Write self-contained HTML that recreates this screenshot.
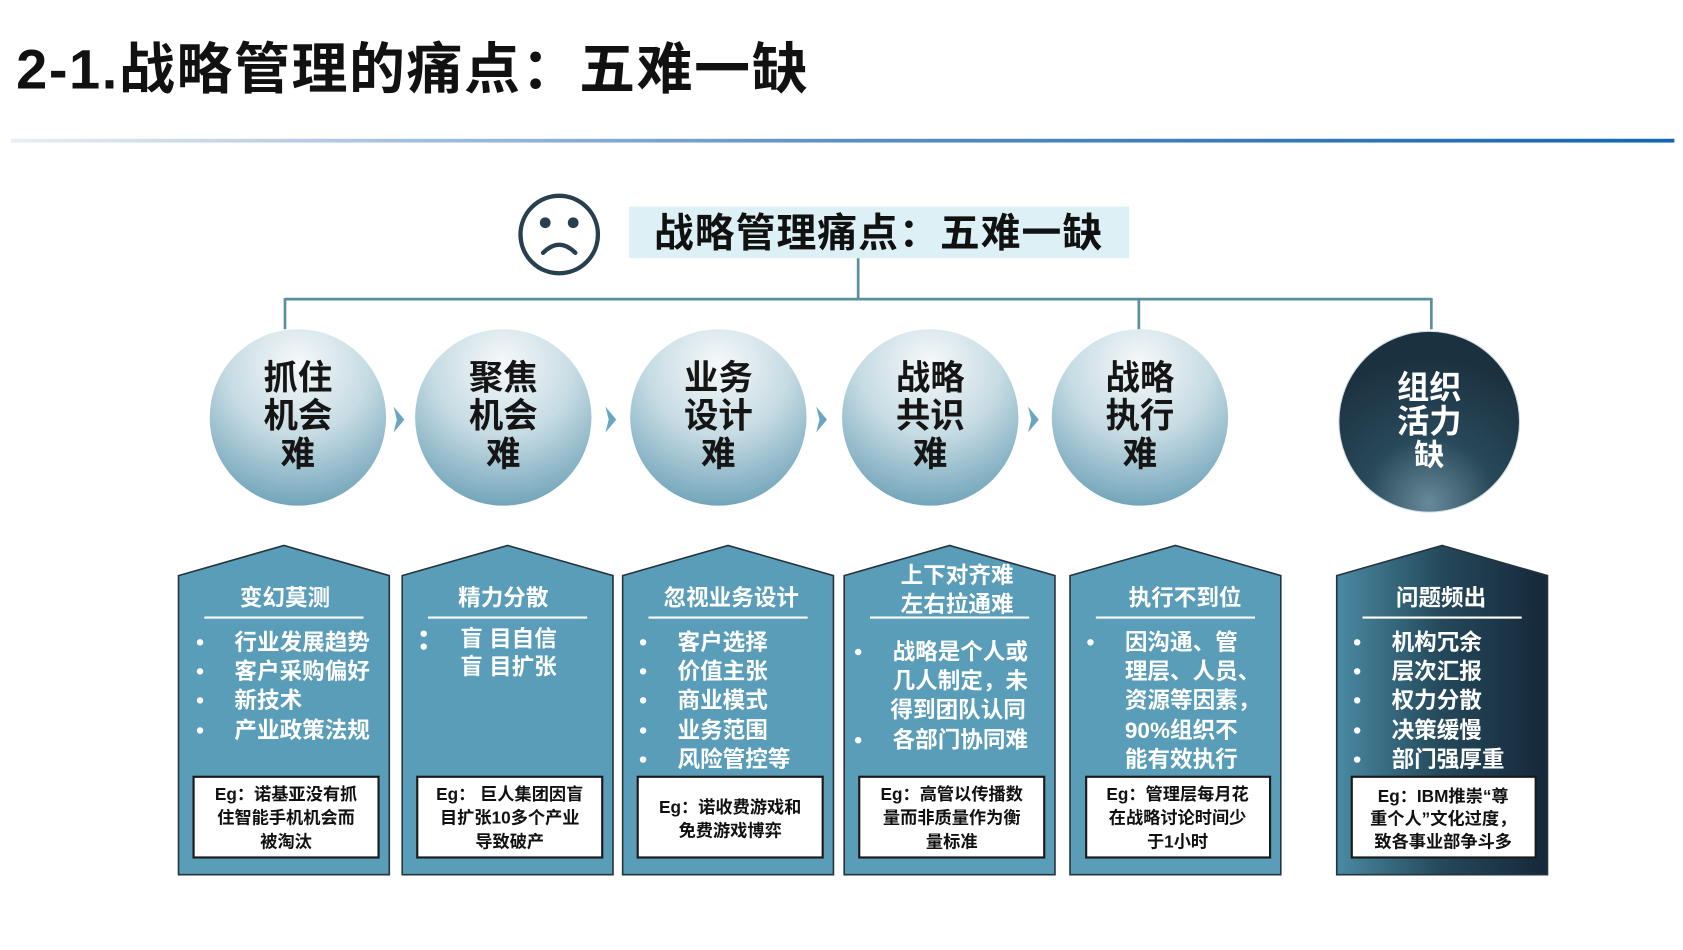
<!DOCTYPE html>
<html><head><meta charset="utf-8"><style>
html,body{margin:0;padding:0;background:#fff;width:1683px;height:950px;overflow:hidden}
svg{display:block}
text{font-family:"Liberation Sans","Noto Sans CJK SC",sans-serif;font-weight:bold;dominant-baseline:central}
.w{fill:#fff}.d{fill:#111}
.ct{font-size:32px;fill:#151515;text-anchor:middle}
.h{font-size:21px;fill:#fff;text-anchor:middle}
.b{font-size:21px;fill:#fff}
.e{font-size:16px;fill:#111;text-anchor:middle}
</style></head><body>
<svg width="1683" height="950" viewBox="0 0 1565 883" preserveAspectRatio="none">
<defs>
<linearGradient id="tl" x1="0" x2="1"><stop offset="0" stop-color="#e9eef3"/><stop offset="0.5" stop-color="#5b8fc4"/><stop offset="1" stop-color="#1266b3"/></linearGradient>
<radialGradient id="cg" cx="0.5" cy="0.2" r="0.9"><stop offset="0" stop-color="#f6f9fa"/><stop offset="0.45" stop-color="#c6dbe3"/><stop offset="1" stop-color="#5e98b0"/></radialGradient>
<radialGradient id="dg" cx="0.5" cy="0.95" r="0.8"><stop offset="0" stop-color="#678a9a"/><stop offset="0.45" stop-color="#28495a"/><stop offset="1" stop-color="#1c3140"/></radialGradient>
<linearGradient id="db" x1="0" x2="1"><stop offset="0" stop-color="#4a8aa3"/><stop offset="0.5" stop-color="#24485a"/><stop offset="1" stop-color="#16283a"/></linearGradient>
</defs>
<text x="15" y="64" style="font-size:52px;letter-spacing:1.5px" class="d">2-1.战略管理的痛点：五难一缺</text>
<rect x="10" y="129" width="1547" height="3.5" fill="url(#tl)"/>
<circle cx="520" cy="218" r="36" fill="none" stroke="#28404d" stroke-width="4"/>
<circle cx="507" cy="207" r="5" fill="#28404d"/><circle cx="533" cy="207" r="5" fill="#28404d"/>
<path d="M505 235 Q520 220 535 235" fill="none" stroke="#28404d" stroke-width="4" stroke-linecap="round"/>
<rect x="585" y="192" width="465" height="48" fill="#dcf0f6"/>
<text x="817" y="217" style="font-size:37px;text-anchor:middle;letter-spacing:1px" class="d">战略管理痛点：五难一缺</text>
<g stroke="#5a8fa0" stroke-width="2.5" fill="none">
<path d="M798 240V278M265 278H1331M265 277V306M1059 277V306M1331 277V306"/>
</g>
<g fill="url(#cg)">
<circle cx="277" cy="388" r="82"/><circle cx="468" cy="388" r="82"/><circle cx="668" cy="388" r="82"/><circle cx="865" cy="388" r="82"/><circle cx="1060" cy="388" r="82"/>
</g>
<circle cx="1329" cy="392" r="84" fill="url(#dg)" stroke="#cfdce2" stroke-width="1"/>
<g fill="#6aa6c0">
<path d="M366 378l10 12-10 12 3-12z"/><path d="M563 378l10 12-10 12 3-12z"/><path d="M759 378l10 12-10 12 3-12z"/><path d="M956 378l10 12-10 12 3-12z"/>
</g>
<g class="ct">
<text x="277" y="352" class="ct">抓住</text><text x="277" y="387" class="ct">机会</text><text x="277" y="423" class="ct">难</text>
<text x="468" y="352" class="ct">聚焦</text><text x="468" y="387" class="ct">机会</text><text x="468" y="423" class="ct">难</text>
<text x="668" y="352" class="ct">业务</text><text x="668" y="387" class="ct">设计</text><text x="668" y="423" class="ct">难</text>
<text x="865" y="352" class="ct">战略</text><text x="865" y="387" class="ct">共识</text><text x="865" y="423" class="ct">难</text>
<text x="1060" y="352" class="ct">战略</text><text x="1060" y="387" class="ct">执行</text><text x="1060" y="423" class="ct">难</text>
<text x="1329" y="360" class="ct" style="fill:#fff;font-size:30px">组织</text><text x="1329" y="392" class="ct" style="fill:#fff;font-size:30px">活力</text><text x="1329" y="424" class="ct" style="fill:#fff;font-size:28px">缺</text>
</g>
<g stroke="#26343d" stroke-width="1.5">
<path d="M166 535L264 507L362 535V813H166Z" fill="#5a9db8"/>
<path d="M374 535L472 507L570 535V813H374Z" fill="#5a9db8"/>
<path d="M579 535L677 507L775 535V813H579Z" fill="#5a9db8"/>
<path d="M785 535L883 507L981 535V813H785Z" fill="#5a9db8"/>
<path d="M995 535L1093 507L1191 535V813H995Z" fill="#5a9db8"/>
<path d="M1243 535L1341 507L1439 535V813H1243Z" fill="url(#db)"/>
</g>
<g fill="#fff" stroke="#1a1a1a" stroke-width="2">
<rect x="180" y="722" width="172" height="75"/><rect x="388" y="722" width="172" height="75"/><rect x="593" y="722" width="172" height="75"/><rect x="799" y="722" width="172" height="75"/><rect x="1010" y="722" width="171" height="75"/><rect x="1257" y="722" width="171" height="75"/>
</g>
<g stroke="#fff" stroke-width="2">
<path d="M190 574H338M398 574H546M603 574H751M809 574H957M1019 574H1167M1267 574H1415"/>
</g>
<g fill="#fff">
<circle cx="186" cy="597" r="3"/><circle cx="186" cy="624" r="3"/><circle cx="186" cy="651" r="3"/><circle cx="186" cy="679" r="3"/>
<circle cx="394" cy="589" r="3"/><circle cx="394" cy="601" r="3"/>
<circle cx="598" cy="597" r="3"/><circle cx="598" cy="624" r="3"/><circle cx="598" cy="651" r="3"/><circle cx="598" cy="679" r="3"/><circle cx="598" cy="706" r="3"/>
<circle cx="798" cy="606" r="3"/><circle cx="798" cy="688" r="3"/>
<circle cx="1014" cy="597" r="3"/>
<circle cx="1262" cy="597" r="3"/><circle cx="1262" cy="624" r="3"/><circle cx="1262" cy="651" r="3"/><circle cx="1262" cy="679" r="3"/><circle cx="1262" cy="706" r="3"/>
</g>
<text x="265" y="556" class="h">变幻莫测</text>
<text x="468" y="556" class="h">精力分散</text>
<text x="680" y="556" class="h">忽视业务设计</text>
<text x="890" y="535" class="h">上下对齐难</text><text x="890" y="562" class="h">左右拉通难</text>
<text x="1102" y="556" class="h">执行不到位</text>
<text x="1340" y="556" class="h">问题频出</text>
<text x="218" y="597" class="b">行业发展趋势</text><text x="218" y="624" class="b">客户采购偏好</text><text x="218" y="651" class="b">新技术</text><text x="218" y="679" class="b">产业政策法规</text>
<text x="428" y="594" class="b">盲 目自信</text><text x="428" y="620" class="b">盲 目扩张</text>
<text x="630" y="597" class="b">客户选择</text><text x="630" y="624" class="b">价值主张</text><text x="630" y="651" class="b">商业模式</text><text x="630" y="679" class="b">业务范围</text><text x="630" y="706" class="b">风险管控等</text>
<text x="830" y="606" class="b">战略是个人或</text><text x="830" y="633" class="b">几人制定，未</text><text x="828" y="660" class="b">得到团队认同</text><text x="830" y="688" class="b">各部门协同难</text>
<text x="1046" y="597" class="b">因沟通、管</text><text x="1046" y="624" class="b">理层、人员、</text><text x="1046" y="651" class="b">资源等因素，</text><text x="1046" y="679" class="b">90%组织不</text><text x="1046" y="706" class="b">能有效执行</text>
<text x="1294" y="597" class="b">机构冗余</text><text x="1294" y="624" class="b">层次汇报</text><text x="1294" y="651" class="b">权力分散</text><text x="1294" y="679" class="b">决策缓慢</text><text x="1294" y="706" class="b">部门强厚重</text>
<text x="266" y="738" class="e">Eg：诺基亚没有抓</text><text x="266" y="760" class="e">住智能手机机会而</text><text x="266" y="782" class="e">被淘汰</text>
<text x="474" y="738" class="e">Eg： 巨人集团因盲</text><text x="474" y="760" class="e">目扩张10多个产业</text><text x="474" y="782" class="e">导致破产</text>
<text x="679" y="750" class="e">Eg：诺收费游戏和</text><text x="679" y="772" class="e">免费游戏博弈</text>
<text x="885" y="738" class="e">Eg：高管以传播数</text><text x="885" y="760" class="e">量而非质量作为衡</text><text x="885" y="782" class="e">量标准</text>
<text x="1095" y="738" class="e">Eg：管理层每月花</text><text x="1095" y="760" class="e">在战略讨论时间少</text><text x="1095" y="782" class="e">于1小时</text>
<text x="1342" y="740" class="e">Eg：IBM推崇“尊</text><text x="1342" y="761" class="e">重个人”文化过度，</text><text x="1342" y="782" class="e">致各事业部争斗多</text>
</svg>
</body></html>
